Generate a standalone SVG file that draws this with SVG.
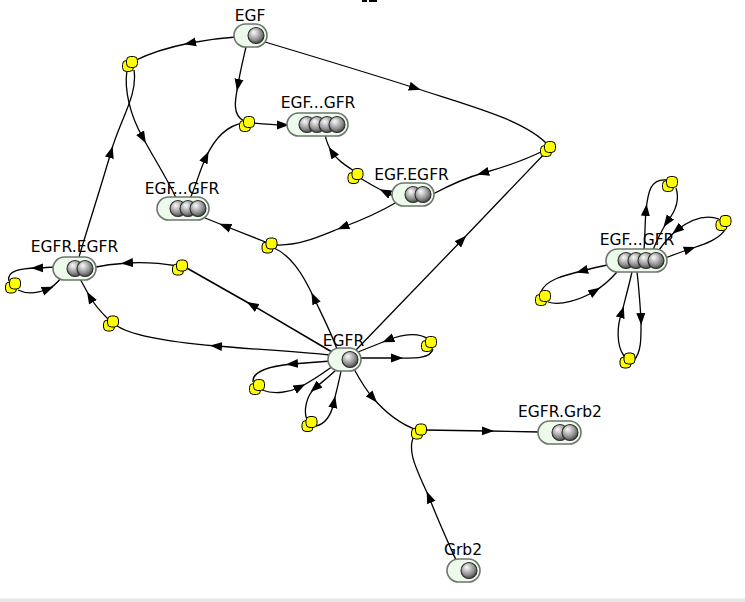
<svg xmlns="http://www.w3.org/2000/svg" width="745" height="602" viewBox="0 0 745 602">
<style>
.e{fill:none;stroke:#000;stroke-width:1.3;marker-mid:url(#a)}
.pill{fill:#eefaec;stroke:#6b776b;stroke-width:1.6}
.s{fill:url(#g);stroke:#2b2b2b;stroke-width:1.1}
.lbl{font-family:"DejaVu Sans",sans-serif;font-size:15.5px;text-anchor:middle;fill:#000}
.rn rect{fill:#ffff00;stroke:#000;stroke-width:1}
</style>
<defs>
<marker id="a" viewBox="0 0 12 10" refX="6" refY="5" markerWidth="12" markerHeight="10" markerUnits="userSpaceOnUse" orient="auto"><path d="M0,0.5 L12,5 L0,9.5 z" fill="#000"/></marker>
<radialGradient id="g" cx="0.42" cy="0.38" r="0.62" fx="0.35" fy="0.3"><stop offset="0" stop-color="#fbfbfb"/><stop offset="0.25" stop-color="#d6d6d6"/><stop offset="0.7" stop-color="#8c8c8c"/><stop offset="1" stop-color="#4a4a4a"/></radialGradient>
<g id="rn" class="rn"><rect x="-9.5" y="-1.5" width="11" height="11" rx="4"/><rect x="-5.5" y="-5.5" width="11" height="11" rx="4"/></g>
</defs>
<rect width="745" height="602" fill="#fff"/>
<rect x="0" y="598.5" width="745" height="3.5" fill="#e6e6e6"/>
<rect x="362" y="0" width="5" height="2" fill="#000"/>
<rect x="369" y="0" width="8" height="2" fill="#000"/>
<g id="connectors">
<path class="e" d="M236 37 C220 38 205 40 190 43 C170 47 150 53 134 61"/>
<path class="e" d="M127 70 C124 90 130 115 143 138 C155 160 168 180 176 198"/>
<path class="e" d="M79 257 C90 220 100 190 111 152 C120 120 138 95 134 70"/>
<path class="e" d="M246 47 C243 60 240 72 238 85 C235 100 232 115 244 121"/>
<path class="e" d="M252 123 C262 124 272 125 283 125 C290 125 295 125 300 125"/>
<path class="e" d="M190 199 C196 185 200 170 206 157 C214 140 225 126 243 123"/>
<path class="e" d="M265 42 C315 57 365 72 415 88 C470 106 525 120 548 145"/>
<path class="e" d="M356 350 L462 240 L548 150"/>
<path class="e" d="M545 150 C525 160 505 167 483 173 C465 178 450 185 433 194"/>
<path class="e" d="M395 197 C392 195 389 194 385 192 C377 188 368 183 360 178"/>
<path class="e" d="M354 171 C345 165 337 160 332 152 C328 146 326 140 325 134"/>
<path class="e" d="M397 202 C380 212 362 220 343 227 C320 236 300 246 276 245"/>
<path class="e" d="M337 349 C330 330 322 315 314 298 C302 272 290 255 274 248"/>
<path class="e" d="M268 243 L225 226 L205 218"/>
<path class="e" style="stroke-width:1.6" d="M332 352 L252 305 L185 267"/>
<path class="e" d="M178 266 C160 263 143 262 127 263 C115 264 105 265 96 267"/>
<path class="e" d="M330 355 C290 351 250 349 216 346 C170 342 130 336 116 325"/>
<path class="e" d="M108 319 C100 311 94 304 90 297 C86 290 83 284 80 279"/>
<path class="e" d="M56 267 C50 267 43 268 37 268 C22 268.5 6 270 9 281"/>
<path class="e" d="M18 290 C28 295 38 293 48 289 C53 287 57 283 61 278"/>
<path class="e" d="M360 358 C373 358 385 358 397 358 C410 358 430 360 433 349"/>
<path class="e" d="M428 339 C420 333 405 333 388 340 C378 344 368 348 358 352"/>
<path class="e" d="M331 361 C318 362 305 363 292 364 C272 366 252 370 253 382"/>
<path class="e" d="M262 390 C275 395 290 392 300 387 C312 381 322 374 333 366"/>
<path class="e" d="M337 369 C330 376 322 382 315 388 C307 395 303 410 307 420"/>
<path class="e" d="M316 426 C325 424 331 416 334 402 C336 392 339 382 341 371"/>
<path class="e" d="M354 369 C360 380 366 390 373 398 C385 412 400 424 417 430"/>
<path class="e" d="M424 430 L488 431 L540 432"/>
<path class="e" d="M456 560 C447 540 437 518 429 497 C418 472 405 450 415 434"/>
<path class="e" d="M644 250 C645 236 645 222 646 210 C648 193 650 178 667 180"/>
<path class="e" d="M676 188 C680 200 675 212 667 222 C662 230 657 240 653 250"/>
<path class="e" d="M665 258 C673 255 681 252 690 249 C702 245 720 240 726 228"/>
<path class="e" d="M719 219 C705 214 690 220 677 230 C670 236 664 243 659 250"/>
<path class="e" d="M612 264 C602 266 592 268 582 271 C565 275 545 280 541 292"/>
<path class="e" d="M548 302 C560 306 580 300 595 291 C603 286 610 280 617 272"/>
<path class="e" d="M637 272 C639 288 640 304 641 319 C641 335 642 352 634 360"/>
<path class="e" d="M624 356 C616 345 617 325 622 312 C625 300 629 285 632 272"/>
</g>
<g id="R1"><use href="#rn" x="132" y="62"/></g>
<g id="R2"><use href="#rn" x="249" y="122"/></g>
<g id="R3"><use href="#rn" x="550" y="147"/></g>
<g id="R4"><use href="#rn" x="357.5" y="174"/></g>
<g id="R5"><use href="#rn" x="271.5" y="243.5"/></g>
<g id="R6"><use href="#rn" x="182" y="265.5"/></g>
<g id="R7"><use href="#rn" x="113" y="321.5"/></g>
<g id="R8"><use href="#rn" x="15" y="283.5"/></g>
<g id="R9"><use href="#rn" x="431" y="342"/></g>
<g id="R10"><use href="#rn" x="259" y="385"/></g>
<g id="R11"><use href="#rn" x="311.5" y="422"/></g>
<g id="R12"><use href="#rn" x="421" y="429.5"/></g>
<g id="R13"><use href="#rn" x="672" y="182"/></g>
<g id="R14"><use href="#rn" x="725.5" y="221"/></g>
<g id="R15"><use href="#rn" x="545" y="296"/></g>
<g id="R16"><use href="#rn" x="629.5" y="358.5"/></g>
<g id="EGF"><rect class="pill" x="234" y="24" width="33" height="23" rx="11.5"/><circle class="s" cx="256" cy="35.5" r="8"/><text class="lbl" x="250" y="21">EGF</text></g>
<g id="EGF_EGFR_EGF_EGFR_top"><rect class="pill" x="287" y="113" width="61" height="23" rx="11.5"/><circle class="s" cx="307" cy="124.5" r="8"/><circle class="s" cx="317" cy="124.5" r="8"/><circle class="s" cx="327" cy="124.5" r="8"/><circle class="s" cx="337" cy="124.5" r="8"/><text class="lbl" x="318" y="108">EGF...GFR</text></g>
<g id="EGF_EGFR_EGFR"><rect class="pill" x="157" y="197" width="52" height="23" rx="11.5"/><circle class="s" cx="178" cy="208.5" r="8"/><circle class="s" cx="188" cy="208.5" r="8"/><circle class="s" cx="198" cy="208.5" r="8"/><text class="lbl" x="182" y="194">EGF...GFR</text></g>
<g id="EGF_EGFR"><rect class="pill" x="392" y="183" width="42" height="23" rx="11.5"/><circle class="s" cx="413" cy="194.5" r="8"/><circle class="s" cx="423" cy="194.5" r="8"/><text class="lbl" x="411.5" y="180">EGF.EGFR</text></g>
<g id="EGFR_EGFR"><rect class="pill" x="53" y="257" width="43" height="23" rx="11.5"/><circle class="s" cx="75" cy="268.5" r="8"/><circle class="s" cx="85" cy="268.5" r="8"/><text class="lbl" x="74.5" y="252">EGFR.EGFR</text></g>
<g id="EGFR"><rect class="pill" x="328" y="348" width="33" height="23" rx="11.5"/><circle class="s" cx="350" cy="359.5" r="8"/><text class="lbl" x="343.5" y="346">EGFR</text></g>
<g id="EGFR_Grb2"><rect class="pill" x="538" y="421" width="43" height="23" rx="11.5"/><circle class="s" cx="560" cy="432.5" r="8"/><circle class="s" cx="570" cy="432.5" r="8"/><text class="lbl" x="560" y="417">EGFR.Grb2</text></g>
<g id="Grb2"><rect class="pill" x="447" y="559" width="33" height="23" rx="11.5"/><circle class="s" cx="469" cy="570.5" r="8"/><text class="lbl" x="463" y="555">Grb2</text></g>
<g id="EGF_EGFR_EGF_EGFR_right"><rect class="pill" x="606" y="249" width="61" height="23" rx="11.5"/><circle class="s" cx="626" cy="260.5" r="8"/><circle class="s" cx="636" cy="260.5" r="8"/><circle class="s" cx="646" cy="260.5" r="8"/><circle class="s" cx="656" cy="260.5" r="8"/><text class="lbl" x="637" y="245">EGF...GFR</text></g>
</svg>
